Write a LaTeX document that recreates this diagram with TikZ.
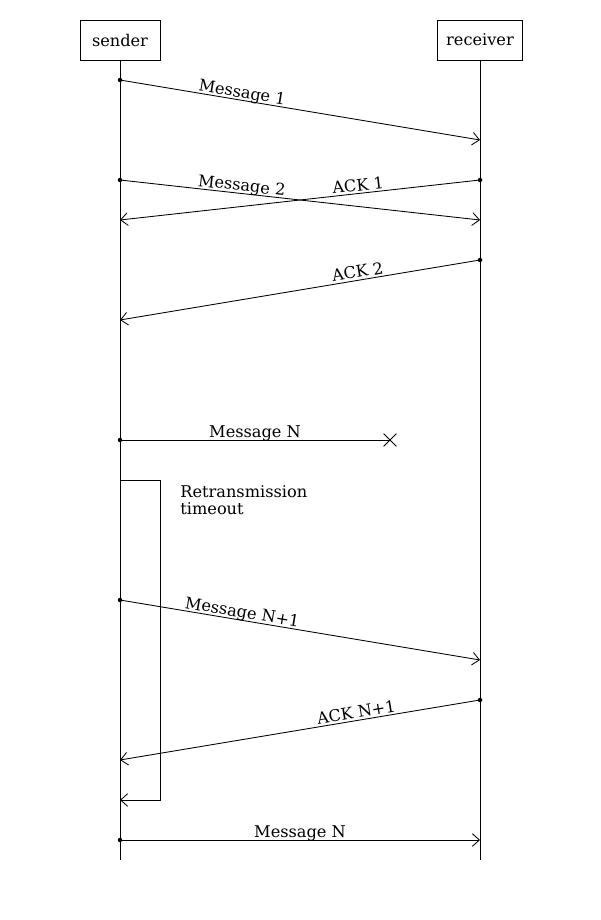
\documentclass[tikz,border=0pt]{standalone}
\usepackage{fontspec}
\setmainfont{DejaVu Serif}
\usetikzlibrary{arrows.meta,shapes.misc}

\begin{document}
\begin{tikzpicture}[x=0.025cm,y=-0.025cm,line width=0.6pt,
    font=\fontsize{11.5}{12}\selectfont,
    actor/.style={draw,minimum width=2cm,minimum height=1cm,inner xsep=6pt},
    msg/.style={-{Straight Barb[length=5pt,width=9pt]}},
    lbl/.style={sloped,anchor=south,inner sep=1.5pt,text depth=0pt}]
  \useasboundingbox (0,0) rectangle (600,920);
  \node[actor] (sender) at (120,40) {sender};
  \node[actor] (receiver) at (480,40) {receiver};
  \coordinate (sEnd) at (120,860);
  \coordinate (rEnd) at (480,860);
  \draw (sender) -- (sEnd);
  \draw (receiver) -- (rEnd);
  % points on the lifelines
  \coordinate (m1s) at (120,80);   \coordinate (m1r) at (480,140);
  \coordinate (m2s) at (120,180);  \coordinate (m2r) at (480,220);
  \coordinate (a1r) at (480,180);  \coordinate (a1s) at (120,220);
  \coordinate (a2r) at (480,260);  \coordinate (a2s) at (120,320);
  \coordinate (mNs) at (120,440);
  \coordinate (t0) at (120,480);   \coordinate (t1) at (120,800);
  \coordinate (mN1s) at (120,600); \coordinate (mN1r) at (480,660);
  \coordinate (aN1r) at (480,700); \coordinate (aN1s) at (120,760);
  \coordinate (mFs) at (120,840);  \coordinate (mFr) at (480,840);
  \node[cross out,draw,inner sep=0pt,minimum size=8.5pt] (lost) at (390,440) {};
  \foreach \c in {m1s,m2s,a1r,a2r,mNs,mN1s,aN1r,mFs}
    \fill (\c) circle (1.6pt);
  % messages
  \draw[msg] (m1s) -- node[lbl,pos=0.336] {Message 1} (m1r);
  \draw[msg] (m2s) -- node[lbl,pos=0.336] {Message 2} (m2r);
  \draw[msg] (a1r) -- node[lbl,pos=0.336] {ACK 1} (a1s);
  \draw[msg] (a2r) -- node[lbl,pos=0.336] {ACK 2} (a2s);
  \draw (mNs) -- node[lbl,pos=0.5] {Message N} (lost.center);
  \draw[msg] (t0) -- ++(40,0) |- (t1);
  \node[anchor=north west,inner sep=0pt,align=left] (rto) at (180,485)
    {Retransmission\\timeout};
  \draw[msg] (mN1s) -- node[lbl,pos=0.336] {Message N+1} (mN1r);
  \draw[msg] (aN1r) -- node[lbl,pos=0.34] {ACK N+1} (aN1s);
  \draw[msg] (mFs) -- node[lbl,pos=0.5] {Message N} (mFr);
\end{tikzpicture}
\end{document}
